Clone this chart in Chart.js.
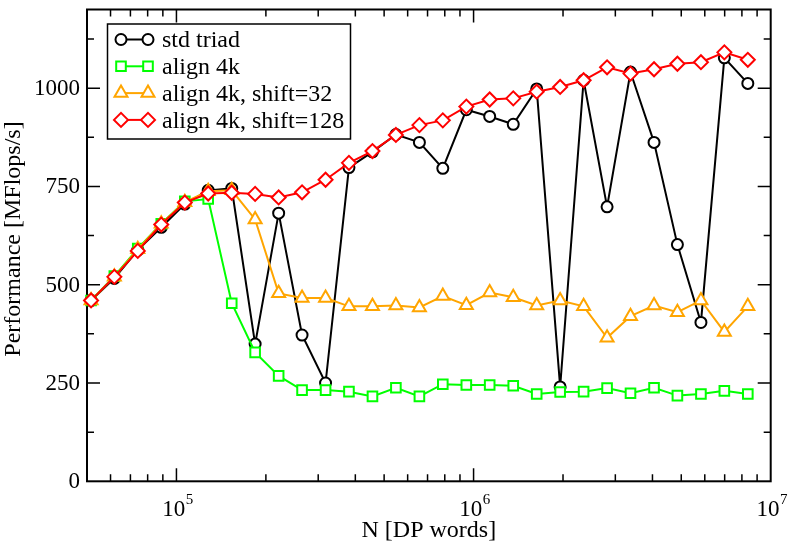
<!doctype html>
<html lang="en">
<head>
  <meta charset="UTF-8">
  <title>Triad performance vs. N</title>
  <script src="https://cdn.jsdelivr.net/npm/chart.js"></script>
  <style>
    html, body { margin: 0; padding: 0; background: #fff; }
    #wrap { width: 789px; height: 545px; position: relative; }
  </style>
</head>
<body>
<div id="wrap"><canvas id="triadChart"></canvas></div>
<script>
  // vector length N [DP words]
  const sizes = [51600, 61800, 74100, 88900, 106700, 127900, 153500, 184000, 220800, 264700,
                 317600, 380700, 456800, 547700, 657200, 787900, 945400, 1133000, 1360000, 1631000,
                 1956000, 2346000, 2814000, 3374000, 4049000, 4853000, 5824000, 6982000, 8375000];

  // performance [MFlops/s]
  const stdTriad = [460, 516, 588, 646, 705, 740, 745, 349, 682, 372,
                    250, 798, 838, 882, 862, 796, 945, 928, 908, 998,
                    240, 1020, 698, 1041, 862, 602, 404, 1077, 1012];
  const align4k = [460, 522, 592, 655, 712, 718, 453, 328, 268, 232,
                   232, 228, 216, 238, 216, 247, 245, 245, 243, 222,
                   227, 228, 237, 224, 238, 218, 222, 230, 222];
  const shift32 = [460, 520, 590, 655, 710, 738, 740, 666, 478, 466,
                   466, 445, 445, 447, 442, 471, 448, 480, 468, 447,
                   460, 445, 365, 420, 447, 430, 460, 380, 445];
  const shift128 = [460, 520, 586, 653, 709, 732, 734, 731, 722, 735,
                    767, 810, 840, 881, 906, 918, 953, 971, 974, 991,
                    1003, 1020, 1053, 1037, 1048, 1062, 1066, 1091, 1072];

  const seriesNames = ['std triad', 'align 4k', 'align 4k, shift=32', 'align 4k, shift=128'];

  // axis ticks
  const xMajor = [1e5, 1e6, 1e7];
  const xMajorExp = ['5', '6', '7'];
  const yMajor = [0, 250, 500, 750, 1000];

  const FONT = '"Liberation Serif", "Times New Roman", serif';

  function pts(ys) {
    return sizes.map((n, i) => ({x: n, y: ys[i]}));
  }

  function series(label, ys, color, style, radius, order) {
    return {
      label: label,
      data: pts(ys),
      borderColor: color,
      backgroundColor: '#fff',
      borderWidth: 2,
      pointStyle: style,
      pointRadius: radius,
      pointHoverRadius: radius,
      pointBorderWidth: 2,
      pointBackgroundColor: '#fff',
      pointBorderColor: color,
      tension: 0,
      fill: false,
      clip: false,
      order: order
    };
  }

  // frame, inward ticks, labels, titles
  const axesPlugin = {
    id: 'graceAxes',
    beforeDatasetsDraw(chart) {
      const {ctx, chartArea: a, scales: {x, y}} = chart;
      ctx.save();
      ctx.strokeStyle = '#000';
      ctx.lineWidth = 2;
      ctx.strokeRect(a.left, a.top, a.right - a.left, a.bottom - a.top);

      ctx.lineWidth = 1.5;
      ctx.beginPath();
      // x ticks (log)
      for (let k = 4; k <= 7; k++) {
        for (let m = 1; m <= 9; m++) {
          const v = m * Math.pow(10, k);
          if (v <= 5e4 || v >= 1e7) continue;
          const px = x.getPixelForValue(v);
          const len = m === 1 ? 13 : 7;
          ctx.moveTo(px, a.bottom); ctx.lineTo(px, a.bottom - len);
          ctx.moveTo(px, a.top); ctx.lineTo(px, a.top + len);
        }
      }
      // y ticks
      for (let v = 125; v < 1200; v += 125) {
        const py = y.getPixelForValue(v);
        const len = v % 250 === 0 ? 13 : 7;
        ctx.moveTo(a.left, py); ctx.lineTo(a.left + len, py);
        ctx.moveTo(a.right, py); ctx.lineTo(a.right - len, py);
      }
      ctx.stroke();

      ctx.fillStyle = '#000';
      // y labels
      ctx.font = '23px ' + FONT;
      ctx.textAlign = 'right';
      ctx.textBaseline = 'middle';
      yMajor.forEach(v => ctx.fillText(String(v), 80, y.getPixelForValue(v) + 1));

      // x labels 10^k
      ctx.textBaseline = 'alphabetic';
      ctx.textAlign = 'left';
      xMajor.forEach((v, i) => {
        const px = x.getPixelForValue(v);
        ctx.font = '23px ' + FONT;
        const w1 = ctx.measureText('10').width;
        ctx.font = '15px ' + FONT;
        const w2 = ctx.measureText(xMajorExp[i]).width;
        const x0 = px - (w1 + w2) / 2 + 1;
        ctx.font = '23px ' + FONT;
        ctx.fillText('10', x0, 516);
        ctx.font = '15px ' + FONT;
        ctx.fillText(xMajorExp[i], x0 + w1 + 0.5, 504);
      });

      // axis titles
      ctx.font = '24px ' + FONT;
      ctx.textAlign = 'center';
      ctx.fillText('N [DP words]', (a.left + a.right) / 2, 537);
      ctx.save();
      ctx.translate(20, 239);
      ctx.rotate(-Math.PI / 2);
      ctx.fillText('Performance [MFlops/s]', 0, 0);
      ctx.restore();
      ctx.restore();
    },
    afterDatasetsDraw(chart) {
      const ctx = chart.ctx;
      ctx.save();
      ctx.fillStyle = '#fff';
      ctx.fillRect(107.5, 24, 243, 115);
      ctx.strokeStyle = '#000';
      ctx.lineWidth = 1.5;
      ctx.strokeRect(107.5, 24, 243, 115);

      chart.data.datasets.forEach((ds, i) => {
        const cy = 39.5 + i * 26.8;
        ctx.strokeStyle = ds.borderColor;
        ctx.lineWidth = 2;
        ctx.beginPath();
        ctx.moveTo(121, cy);
        ctx.lineTo(148, cy);
        ctx.stroke();
        [121, 148].forEach(px => {
          ctx.fillStyle = '#fff';
          ctx.strokeStyle = ds.borderColor;
          ctx.lineWidth = 2;
          Chart.helpers.drawPoint(ctx, {
            pointStyle: ds.pointStyle, radius: ds.pointRadius, rotation: 0, borderWidth: 2
          }, px, cy);
        });
        ctx.fillStyle = '#000';
        ctx.font = '24px ' + FONT;
        ctx.textAlign = 'left';
        ctx.textBaseline = 'middle';
        ctx.fillText(ds.label, 162, cy + 1.5);
      });
      ctx.restore();
    }
  };

  new Chart(document.getElementById('triadChart'), {
    type: 'line',
    data: {
      datasets: [
        series(seriesNames[0], stdTriad, '#000000', 'circle', 5.5, 3),
        series(seriesNames[1], align4k, '#00ff00', 'rect', 6.8, 2),
        series(seriesNames[2], shift32, '#ffa500', 'triangle', 7.5, 1),
        series(seriesNames[3], shift128, '#ff0000', 'rectRot', 7, 0)
      ]
    },
    options: {
      responsive: true,
      maintainAspectRatio: false,
      animation: false,
      layout: {padding: {left: 87, right: 18.3, top: 2.5, bottom: 63.7}},
      scales: {
        x: {type: 'logarithmic', min: 5e4, max: 1e7, display: false},
        y: {type: 'linear', min: 0, max: 1200, display: false}
      },
      plugins: {
        legend: {display: false},
        tooltip: {enabled: false}
      }
    },
    plugins: [axesPlugin]
  });
</script>
</body>
</html>
